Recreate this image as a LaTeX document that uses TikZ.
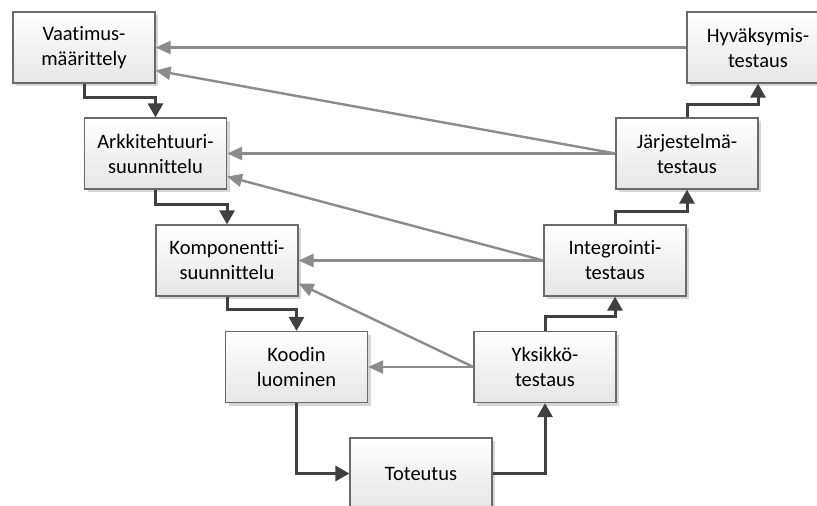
\documentclass[tikz,border=0pt]{standalone}
\usepackage{fontspec}
\setmainfont[Ligatures={NoCommon}]{Carlito}
\usetikzlibrary{arrows.meta,shadows}
\definecolor{boxline}{HTML}{6A6A6A}
\definecolor{flowdark}{HTML}{404040}
\definecolor{backgray}{HTML}{8C8C8C}
\definecolor{shadowgray}{HTML}{D6D6D6}
\tikzset{
  stage/.style={draw=boxline, line width=1.2pt, rectangle,
    minimum width=142pt, minimum height=71pt, inner sep=0pt,
    top color=white, bottom color=black!10, align=center,
    font=\fontsize{20.5}{25}\selectfont,
    drop shadow={shadow xshift=3pt, shadow yshift=-3pt, fill=shadowgray, opacity=1}},
  forward/.style={draw=flowdark, line width=3pt,
    -{Triangle[length=14pt,width=15pt]}},
  feedback/.style={draw=backgray, line width=2.4pt,
    -{Triangle[length=15pt,width=13pt]}}
}
\begin{document}
\begin{tikzpicture}[x=1pt, y=-1pt]
\useasboundingbox (0,0) rectangle (817,506);
\clip (0,0) rectangle (817,506);
\fill[white] (0,0) rectangle (817,506);

% design side of the V
\node[stage] (req)  at (84,47.5)    {Vaatimus-\\määrittely};
\node[stage] (arch) at (155.5,153.5) {Arkkitehtuuri-\\suunnittelu};
\node[stage] (comp) at (227,260.5)  {Komponentti-\\suunnittelu};
\node[stage] (code) at (296.5,367)  {Koodin\\luominen};
\node[stage] (impl) at (421,473.5)  {Toteutus};
% testing side of the V
\node[stage] (unit) at (545,367)    {Yksikkö-\\testaus};
\node[stage] (intg) at (615,260.5)  {Integrointi-\\testaus};
\node[stage] (sys)  at (687,153.5)  {Järjestelmä-\\testaus};
\node[stage] (acc)  at (758,47.5)   {Hyväksymis-\\testaus};

% feedback from tests to design levels
\draw[feedback] (acc.west)  -- (req.east);
\draw[feedback] (sys.west)  -- ([yshift=-23pt]req.east);
\draw[feedback] (sys.west)  -- (arch.east);
\draw[feedback] (intg.west) -- ([yshift=-23pt]arch.east);
\draw[feedback] (intg.west) -- (comp.east);
\draw[feedback] (unit.west) -- ([yshift=-23pt]comp.east);
\draw[feedback] (unit.west) -- (code.east);

% main flow down and up the V
\draw[forward] (req.south)  -- ++(0,14) -| (arch.north);
\draw[forward] (arch.south) -- ++(0,15) -| (comp.north);
\draw[forward] (comp.south) -- ++(0,13) -| (code.north);
\draw[forward] (code.south) |- (impl.west);
\draw[forward] (impl.east)  -| (unit.south);
\draw[forward] (unit.north) -- ++(0,-14) -| (intg.south);
\draw[forward] (intg.north) -- ++(0,-13) -| (sys.south);
\draw[forward] (sys.north)  -- ++(0,-13) -| (acc.south);
\end{tikzpicture}
\end{document}
